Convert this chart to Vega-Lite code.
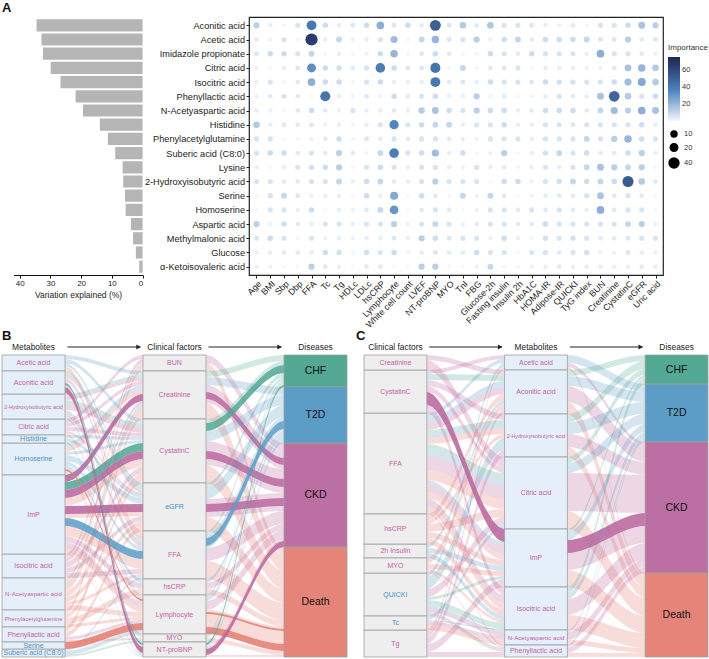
{
"$schema":"https://vega.github.io/schema/vega-lite/v6.json",
"padding":{"left":1,"top":2,"right":0,"bottom":0},
"spacing":-5,
"vconcat":[
{
 "hconcat":[
 {
  "width":230,"height":258,
  "title":{"text":"A","anchor":"start","frame":"group","fontSize":13,"fontWeight":"bold","offset":2},
  "view":{"stroke":null},
  "data":{"name":"bars"},
  "mark":{"type":"bar","color":"#b5b5b5"},
  "encoding":{
   "y":{"field":"m","type":"nominal","sort":null,"scale":{"paddingInner":0.14,"paddingOuter":0.155},"axis":null},
   "x":{"field":"v","type":"quantitative","scale":{"domain":[0,42],"range":[140.6,11.5],"nice":false},"axis":{"values":[0,10,20,30,40],"title":"Variation explained (%)","tickSize":3,"labelFontSize":8,"titleFontSize":8.5,"labelPadding":1,"titlePadding":3,"domainColor":"#111","tickColor":"#111","grid":false}}
  }
 },
 {
  "width":414,"height":258,
  "view":{"stroke":"#222","strokeWidth":1.2},
  "data":{"name":"imp"},
  "transform":[{"fold":["Age","BMI","Sbp","Dbp","FFA","Tc","Tg","HDLc","LDLc","hsCRP","Lymphocyte","White cell count","LVEF","NT-proBNP","MYO","TnI","FBG","Glucose-2h","Fasting insulin","Insulin 2h","HbA1C","HOMA-IR","Adipose-IR","QUICKI","TyG index","BUN","Creatinine","CystatinC","eGFR","Uric acid"],"as":["clin","imp"]}],
  "mark":{"type":"circle","opacity":1},
  "encoding":{
   "x":{"field":"clin","type":"nominal","sort":["Age","BMI","Sbp","Dbp","FFA","Tc","Tg","HDLc","LDLc","hsCRP","Lymphocyte","White cell count","LVEF","NT-proBNP","MYO","TnI","FBG","Glucose-2h","Fasting insulin","Insulin 2h","HbA1C","HOMA-IR","Adipose-IR","QUICKI","TyG index","BUN","Creatinine","CystatinC","eGFR","Uric acid"],"scale":{"type":"point","padding":0.545},"axis":{"title":null,"labelAngle":-45,"labelFontSize":8.8,"tickSize":3,"domain":false,"labelPadding":1}},
   "y":{"field":"m","type":"nominal","sort":null,"scale":{"type":"point","padding":0.585},"axis":{"title":null,"labelFontSize":9.2,"tickSize":3,"domain":false,"labelPadding":1.5}},
   "size":{"aggregate":"max","field":"imp","type":"quantitative","scale":{"domain":[0,75],"range":[14,170]},"legend":{"title":null,"orient":"none","legendX":666,"legendY":113,"values":[10,20,40],"symbolFillColor":"#000","symbolStrokeColor":"#000","symbolOpacity":1,"labelFontSize":7.5,"labelColor":"#333","rowPadding":0}},
   "color":{"field":"imp","type":"quantitative","scale":{"domain":[0,35,75],"range":["#f4f8fc","#4f86bf","#1b2752"]},"legend":{"title":"Importance","orient":"none","legendX":666,"legendY":27,"values":[20,40,60],"gradientLength":64,"gradientThickness":12,"labelFontSize":7.5,"titleFontSize":8,"titleFontWeight":"normal","titleColor":"#333","labelColor":"#333","titlePadding":5}}
  }
 }
 ],
 "spacing":17,
 "bounds":"flush"
},
{
 "hconcat":[
 {
  "width":345,"height":327,
  "view":{"stroke":null},
  "resolve":{"scale":{"x":"independent"}},
  "layer":[
   {
    "data":{"name":"pathsB"},
    "transform":[
     {"lookup":"m","from":{"data":{"name":"nodesB"},"key":"name","fields":["name","rank"]},"as":["mL","mRank"]},
     {"lookup":"c","from":{"data":{"name":"nodesB"},"key":"name","fields":["name","rank"]},"as":["cL","cRank"]},
     {"lookup":"d","from":{"data":{"name":"nodesB"},"key":"name","fields":["name","rank"]},"as":["dL","dRank"]},
     {"fold":["mL","m","cL","c"],"as":["key","node"]},
     {"lookup":"node","from":{"data":{"name":"nodesB"},"key":"name","fields":["rank"]},"as":["nRank"]},
     {"stack":"v","groupby":["key"],"sort":[{"field":"nRank","order":"ascending"},{"field":"cRank","order":"ascending"},{"field":"mRank","order":"ascending"},{"field":"dRank","order":"ascending"},{"field":"hl","order":"ascending"}],"as":["y0","y1"]}
    ],
    "mark":{"type":"area","interpolate":"monotone"},
    "encoding":{
     "x":{"field":"key","type":"nominal","sort":["mL","s1","s2","s3","m","s5","s6","s7","s8","cL","s10","s11","s12","c","s14","s15","s16","s17","dL","s19","s20","s21","d"],"scale":{"type":"point","padding":0,"domain":["mL","s1","s2","s3","m","s5","s6","s7","s8","cL","s10","s11","s12","c","s14","s15","s16","s17","dL","s19","s20","s21","d"]},"axis":null},
     "y":{"field":"y0","type":"quantitative","stack":null,"scale":{"domain":[-25,302],"reverse":true,"nice":false,"zero":false},"axis":null},
     "y2":{"field":"y1"},
     "detail":[{"field":"m","type":"nominal"},{"field":"c","type":"nominal"},{"field":"d","type":"nominal"},{"field":"hl","type":"nominal"}],
     "color":{"field":"d","type":"nominal","scale":{"domain":["CHF","T2D","CKD","Death"],"range":["#4fa792","#5a9cc6","#b8639c","#e4796c"]},"legend":null},
     "opacity":{"field":"hl","type":"quantitative","scale":{"domain":[0,1],"range":[0.26,0.85]},"legend":null}
    }
   },
   {
    "data":{"name":"pathsB"},
    "transform":[
     {"lookup":"m","from":{"data":{"name":"nodesB"},"key":"name","fields":["name","rank"]},"as":["mL","mRank"]},
     {"lookup":"c","from":{"data":{"name":"nodesB"},"key":"name","fields":["name","rank"]},"as":["cL","cRank"]},
     {"lookup":"d","from":{"data":{"name":"nodesB"},"key":"name","fields":["name","rank"]},"as":["dL","dRank"]},
     {"fold":["cL","c","dL","d"],"as":["key","node"]},
     {"lookup":"node","from":{"data":{"name":"nodesB"},"key":"name","fields":["rank"]},"as":["nRank"]},
     {"stack":"v","groupby":["key"],"sort":[{"field":"nRank","order":"ascending"},{"field":"dRank","order":"ascending"},{"field":"cRank","order":"ascending"},{"field":"mRank","order":"ascending"},{"field":"hl","order":"ascending"}],"as":["y0","y1"]}
    ],
    "mark":{"type":"area","interpolate":"monotone"},
    "encoding":{
     "x":{"field":"key","type":"nominal","sort":["mL","s1","s2","s3","m","s5","s6","s7","s8","cL","s10","s11","s12","c","s14","s15","s16","s17","dL","s19","s20","s21","d"],"scale":{"type":"point","padding":0,"domain":["mL","s1","s2","s3","m","s5","s6","s7","s8","cL","s10","s11","s12","c","s14","s15","s16","s17","dL","s19","s20","s21","d"]},"axis":null},
     "y":{"field":"y0","type":"quantitative","stack":null,"scale":{"domain":[-25,302],"reverse":true,"nice":false,"zero":false},"axis":null},
     "y2":{"field":"y1"},
     "detail":[{"field":"m","type":"nominal"},{"field":"c","type":"nominal"},{"field":"d","type":"nominal"},{"field":"hl","type":"nominal"}],
     "color":{"field":"d","type":"nominal","scale":{"domain":["CHF","T2D","CKD","Death"],"range":["#4fa792","#5a9cc6","#b8639c","#e4796c"]},"legend":null},
     "opacity":{"field":"hl","type":"quantitative","scale":{"domain":[0,1],"range":[0.26,0.85]},"legend":null}
    }
   },
   {
    "data":{"name":"pathsB"},
    "transform":[
     {"fold":["m","c","d"],"as":["stage","node"]},
     {"aggregate":[{"op":"sum","field":"v","as":"v"}],"groupby":["stage","node"]},
     {"lookup":"node","from":{"data":{"name":"nodesB"},"key":"name","fields":["rank","kind","dir"]}}
    ],
    "mark":{"type":"bar","stroke":"#a0a0a0","strokeWidth":0.8},
    "encoding":{
     "x":{"field":"stage","type":"nominal","sort":["m","g1","c","g2","d"],"scale":{"type":"band","domain":["m","g1","c","g2","d"],"paddingInner":0.1064,"paddingOuter":0},"axis":null},
     "y":{"field":"v","type":"quantitative","stack":"zero","scale":{"domain":[-25,302],"reverse":true,"nice":false,"zero":false},"axis":null},
     "order":{"field":"rank","type":"quantitative"},
     "detail":{"field":"node","type":"nominal"},
     "fill":{"field":"kind","type":"nominal","scale":{"domain":["met","cli","CHF","T2D","CKD","Death"],"range":["#e5eff9","#eeeeee","#53a994","#5b9dc6","#bc6fa3","#e5857a"]},"legend":null}
    }
   },
   {
    "data":{"name":"pathsB"},
    "transform":[
     {"fold":["m","c","d"],"as":["stage","node"]},
     {"aggregate":[{"op":"sum","field":"v","as":"v"}],"groupby":["stage","node"]},
     {"lookup":"node","from":{"data":{"name":"nodesB"},"key":"name","fields":["rank","kind","dir"]}}
    ],
    "mark":{"type":"text","baseline":"middle","align":"center"},
    "encoding":{
     "x":{"field":"stage","type":"nominal","sort":["m","g1","c","g2","d"],"scale":{"type":"band","domain":["m","g1","c","g2","d"],"paddingInner":0.1064,"paddingOuter":0},"axis":null},
     "y":{"field":"v","type":"quantitative","stack":"zero","bandPosition":0.5,"scale":{"domain":[-25,302],"reverse":true,"nice":false,"zero":false},"axis":null},
     "order":{"field":"rank","type":"quantitative"},
     "detail":{"field":"node","type":"nominal"},
     "text":{"field":"node"},
     "color":{"condition":[{"test":"datum.stage==='d'","value":"#111111"},{"test":"datum.dir==='n'","value":"#4990c7"}],"value":"#c45fa5"},
     "size":{"condition":[{"test":"datum.stage==='d'","value":10.5},{"test":"length(datum.node)>=24","value":5.4},{"test":"length(datum.node)>=21","value":5.8},{"test":"length(datum.node)>=20","value":6.2}],"value":7}
    }
   },
   {
    "data":{"values":[{"stage":"m","label":"Metabolites"},{"stage":"c","label":"Clinical factors"},{"stage":"d","label":"Diseases"}]},
    "mark":{"type":"text","fontSize":8.4,"color":"#222","baseline":"middle"},
    "encoding":{
     "x":{"field":"stage","type":"nominal","sort":["m","g1","c","g2","d"],"scale":{"type":"band","domain":["m","g1","c","g2","d"],"paddingInner":0.1064,"paddingOuter":0},"axis":null},
     "y":{"datum":-8,"type":"quantitative","scale":{"domain":[-25,302],"reverse":true,"nice":false,"zero":false},"axis":null},
     "text":{"field":"label"}
    }
   },
   {
    "data":{"values":[{"stage":"m","label":"B"}]},
    "mark":{"type":"text","fontSize":13,"fontWeight":"bold","color":"#111","align":"left","baseline":"middle"},
    "encoding":{
     "x":{"field":"stage","type":"nominal","bandPosition":0,"sort":["m","g1","c","g2","d"],"scale":{"type":"band","domain":["m","g1","c","g2","d"],"paddingInner":0.1064,"paddingOuter":0},"axis":null},
     "y":{"datum":-19.5,"type":"quantitative","scale":{"domain":[-25,302],"reverse":true,"nice":false,"zero":false},"axis":null},
     "text":{"field":"label"}
    }
   },
   {
    "data":{"values":[{"stage":"g1"},{"stage":"g2"}]},
    "mark":{"type":"bar","color":"#222","width":{"band":1.16}},
    "encoding":{
     "x":{"field":"stage","type":"nominal","sort":["m","g1","c","g2","d"],"scale":{"type":"band","domain":["m","g1","c","g2","d"],"paddingInner":0.1064,"paddingOuter":0},"axis":null},
     "y":{"datum":-8.4,"type":"quantitative","scale":{"domain":[-25,302],"reverse":true,"nice":false,"zero":false},"axis":null},
     "y2":{"datum":-7.6}
    }
   },
   {
    "data":{"values":[{"stage":"g1"},{"stage":"g2"}]},
    "mark":{"type":"point","shape":"triangle-right","filled":true,"size":26,"color":"#222","opacity":1,"xOffset":3},
    "encoding":{
     "x":{"field":"stage","type":"nominal","bandPosition":1,"sort":["m","g1","c","g2","d"],"scale":{"type":"band","domain":["m","g1","c","g2","d"],"paddingInner":0.1064,"paddingOuter":0},"axis":null},
     "y":{"datum":-8,"type":"quantitative","scale":{"domain":[-25,302],"reverse":true,"nice":false,"zero":false},"axis":null}
    }
   }
  ]
 },
 {
  "width":344,"height":327,
  "view":{"stroke":null},
  "resolve":{"scale":{"x":"independent"}},
  "layer":[
   {
    "data":{"name":"pathsC"},
    "transform":[
     {"lookup":"m","from":{"data":{"name":"nodesC"},"key":"name","fields":["name","rank"]},"as":["mL","mRank"]},
     {"lookup":"c","from":{"data":{"name":"nodesC"},"key":"name","fields":["name","rank"]},"as":["cL","cRank"]},
     {"lookup":"d","from":{"data":{"name":"nodesC"},"key":"name","fields":["name","rank"]},"as":["dL","dRank"]},
     {"fold":["cL","c","mL","m"],"as":["key","node"]},
     {"lookup":"node","from":{"data":{"name":"nodesC"},"key":"name","fields":["rank"]},"as":["nRank"]},
     {"stack":"v","groupby":["key"],"sort":[{"field":"nRank","order":"ascending"},{"field":"mRank","order":"ascending"},{"field":"cRank","order":"ascending"},{"field":"dRank","order":"ascending"},{"field":"hl","order":"ascending"}],"as":["y0","y1"]}
    ],
    "mark":{"type":"area","interpolate":"monotone"},
    "encoding":{
     "x":{"field":"key","type":"nominal","sort":["cL","s1","s2","s3","c","s5","s6","s7","s8","mL","s10","s11","s12","m","s14","s15","s16","s17","dL","s19","s20","s21","d"],"scale":{"type":"point","padding":0,"domain":["cL","s1","s2","s3","c","s5","s6","s7","s8","mL","s10","s11","s12","m","s14","s15","s16","s17","dL","s19","s20","s21","d"]},"axis":null},
     "y":{"field":"y0","type":"quantitative","stack":null,"scale":{"domain":[-25,302],"reverse":true,"nice":false,"zero":false},"axis":null},
     "y2":{"field":"y1"},
     "detail":[{"field":"m","type":"nominal"},{"field":"c","type":"nominal"},{"field":"d","type":"nominal"},{"field":"hl","type":"nominal"}],
     "color":{"field":"d","type":"nominal","scale":{"domain":["CHF","T2D","CKD","Death"],"range":["#4fa792","#5a9cc6","#b8639c","#e4796c"]},"legend":null},
     "opacity":{"field":"hl","type":"quantitative","scale":{"domain":[0,1],"range":[0.26,0.85]},"legend":null}
    }
   },
   {
    "data":{"name":"pathsC"},
    "transform":[
     {"lookup":"m","from":{"data":{"name":"nodesC"},"key":"name","fields":["name","rank"]},"as":["mL","mRank"]},
     {"lookup":"c","from":{"data":{"name":"nodesC"},"key":"name","fields":["name","rank"]},"as":["cL","cRank"]},
     {"lookup":"d","from":{"data":{"name":"nodesC"},"key":"name","fields":["name","rank"]},"as":["dL","dRank"]},
     {"fold":["mL","m","dL","d"],"as":["key","node"]},
     {"lookup":"node","from":{"data":{"name":"nodesC"},"key":"name","fields":["rank"]},"as":["nRank"]},
     {"stack":"v","groupby":["key"],"sort":[{"field":"nRank","order":"ascending"},{"field":"dRank","order":"ascending"},{"field":"mRank","order":"ascending"},{"field":"cRank","order":"ascending"},{"field":"hl","order":"ascending"}],"as":["y0","y1"]}
    ],
    "mark":{"type":"area","interpolate":"monotone"},
    "encoding":{
     "x":{"field":"key","type":"nominal","sort":["cL","s1","s2","s3","c","s5","s6","s7","s8","mL","s10","s11","s12","m","s14","s15","s16","s17","dL","s19","s20","s21","d"],"scale":{"type":"point","padding":0,"domain":["cL","s1","s2","s3","c","s5","s6","s7","s8","mL","s10","s11","s12","m","s14","s15","s16","s17","dL","s19","s20","s21","d"]},"axis":null},
     "y":{"field":"y0","type":"quantitative","stack":null,"scale":{"domain":[-25,302],"reverse":true,"nice":false,"zero":false},"axis":null},
     "y2":{"field":"y1"},
     "detail":[{"field":"m","type":"nominal"},{"field":"c","type":"nominal"},{"field":"d","type":"nominal"},{"field":"hl","type":"nominal"}],
     "color":{"field":"d","type":"nominal","scale":{"domain":["CHF","T2D","CKD","Death"],"range":["#4fa792","#5a9cc6","#b8639c","#e4796c"]},"legend":null},
     "opacity":{"field":"hl","type":"quantitative","scale":{"domain":[0,1],"range":[0.26,0.85]},"legend":null}
    }
   },
   {
    "data":{"name":"pathsC"},
    "transform":[
     {"fold":["c","m","d"],"as":["stage","node"]},
     {"aggregate":[{"op":"sum","field":"v","as":"v"}],"groupby":["stage","node"]},
     {"lookup":"node","from":{"data":{"name":"nodesC"},"key":"name","fields":["rank","kind","dir"]}}
    ],
    "mark":{"type":"bar","stroke":"#a0a0a0","strokeWidth":0.8},
    "encoding":{
     "x":{"field":"stage","type":"nominal","sort":["c","g1","m","g2","d"],"scale":{"type":"band","domain":["c","g1","m","g2","d"],"paddingInner":0.1064,"paddingOuter":0},"axis":null},
     "y":{"field":"v","type":"quantitative","stack":"zero","scale":{"domain":[-25,302],"reverse":true,"nice":false,"zero":false},"axis":null},
     "order":{"field":"rank","type":"quantitative"},
     "detail":{"field":"node","type":"nominal"},
     "fill":{"field":"kind","type":"nominal","scale":{"domain":["met","cli","CHF","T2D","CKD","Death"],"range":["#e5eff9","#eeeeee","#53a994","#5b9dc6","#bc6fa3","#e5857a"]},"legend":null}
    }
   },
   {
    "data":{"name":"pathsC"},
    "transform":[
     {"fold":["c","m","d"],"as":["stage","node"]},
     {"aggregate":[{"op":"sum","field":"v","as":"v"}],"groupby":["stage","node"]},
     {"lookup":"node","from":{"data":{"name":"nodesC"},"key":"name","fields":["rank","kind","dir"]}}
    ],
    "mark":{"type":"text","baseline":"middle","align":"center"},
    "encoding":{
     "x":{"field":"stage","type":"nominal","sort":["c","g1","m","g2","d"],"scale":{"type":"band","domain":["c","g1","m","g2","d"],"paddingInner":0.1064,"paddingOuter":0},"axis":null},
     "y":{"field":"v","type":"quantitative","stack":"zero","bandPosition":0.5,"scale":{"domain":[-25,302],"reverse":true,"nice":false,"zero":false},"axis":null},
     "order":{"field":"rank","type":"quantitative"},
     "detail":{"field":"node","type":"nominal"},
     "text":{"field":"node"},
     "color":{"condition":[{"test":"datum.stage==='d'","value":"#111111"},{"test":"datum.dir==='n'","value":"#4990c7"}],"value":"#c45fa5"},
     "size":{"condition":[{"test":"datum.stage==='d'","value":10.5},{"test":"length(datum.node)>=24","value":5.4},{"test":"length(datum.node)>=21","value":5.8},{"test":"length(datum.node)>=20","value":6.2}],"value":7}
    }
   },
   {
    "data":{"values":[{"stage":"c","label":"Clinical factors"},{"stage":"m","label":"Metabolites"},{"stage":"d","label":"Diseases"}]},
    "mark":{"type":"text","fontSize":8.4,"color":"#222","baseline":"middle"},
    "encoding":{
     "x":{"field":"stage","type":"nominal","sort":["c","g1","m","g2","d"],"scale":{"type":"band","domain":["c","g1","m","g2","d"],"paddingInner":0.1064,"paddingOuter":0},"axis":null},
     "y":{"datum":-8,"type":"quantitative","scale":{"domain":[-25,302],"reverse":true,"nice":false,"zero":false},"axis":null},
     "text":{"field":"label"}
    }
   },
   {
    "data":{"values":[{"stage":"c","label":"C"}]},
    "mark":{"type":"text","fontSize":13,"fontWeight":"bold","color":"#111","align":"left","baseline":"middle","dx":-8},
    "encoding":{
     "x":{"field":"stage","type":"nominal","bandPosition":0,"sort":["c","g1","m","g2","d"],"scale":{"type":"band","domain":["c","g1","m","g2","d"],"paddingInner":0.1064,"paddingOuter":0},"axis":null},
     "y":{"datum":-19.5,"type":"quantitative","scale":{"domain":[-25,302],"reverse":true,"nice":false,"zero":false},"axis":null},
     "text":{"field":"label"}
    }
   },
   {
    "data":{"values":[{"stage":"g1"},{"stage":"g2"}]},
    "mark":{"type":"bar","color":"#222","width":{"band":1.16}},
    "encoding":{
     "x":{"field":"stage","type":"nominal","sort":["c","g1","m","g2","d"],"scale":{"type":"band","domain":["c","g1","m","g2","d"],"paddingInner":0.1064,"paddingOuter":0},"axis":null},
     "y":{"datum":-8.4,"type":"quantitative","scale":{"domain":[-25,302],"reverse":true,"nice":false,"zero":false},"axis":null},
     "y2":{"datum":-7.6}
    }
   },
   {
    "data":{"values":[{"stage":"g1"},{"stage":"g2"}]},
    "mark":{"type":"point","shape":"triangle-right","filled":true,"size":26,"color":"#222","opacity":1,"xOffset":3},
    "encoding":{
     "x":{"field":"stage","type":"nominal","bandPosition":1,"sort":["c","g1","m","g2","d"],"scale":{"type":"band","domain":["c","g1","m","g2","d"],"paddingInner":0.1064,"paddingOuter":0},"axis":null},
     "y":{"datum":-8,"type":"quantitative","scale":{"domain":[-25,302],"reverse":true,"nice":false,"zero":false},"axis":null}
    }
   }
  ]
 }
 ],
 "spacing":17,
 "bounds":"flush"
}
],
"datasets":{
 "bars":[
  {"m":"Aconitic acid","v":34.5},{"m":"Acetic acid","v":32.9},{"m":"Imidazole propionate","v":32.4},{"m":"Citric acid","v":29.9},{"m":"Isocitric acid","v":26.7},{"m":"Phenyllactic acid","v":21.8},{"m":"N-Acetyaspartic acid","v":19.4},{"m":"Histidine","v":13.9},{"m":"Phenylacetylglutamine","v":11.3},{"m":"Suberic acid (C8:0)","v":8.9},{"m":"Lysine","v":6.5},{"m":"2-Hydroxyisobutyric acid","v":6.3},{"m":"Serine","v":5.7},{"m":"Homoserine","v":5.5},{"m":"Aspartic acid","v":3.8},{"m":"Methylmalonic acid","v":3.1},{"m":"Glucose","v":2.2},{"m":"α-Ketoisovaleric acid","v":1.1}
 ],
 "imp":[
  {"m":"Aconitic acid","Age":12,"BMI":3,"Sbp":1,"Dbp":6,"FFA":40,"Tc":8,"Tg":3,"HDLc":5,"LDLc":8,"hsCRP":22,"Lymphocyte":5,"White cell count":8,"LVEF":4,"NT-proBNP":50,"MYO":5,"TnI":14,"FBG":4,"Glucose-2h":15,"Fasting insulin":6,"Insulin 2h":6,"HbA1C":5,"HOMA-IR":3,"Adipose-IR":2,"QUICKI":4,"TyG index":1,"BUN":6,"Creatinine":6,"CystatinC":8,"eGFR":16,"Uric acid":12},
  {"m":"Acetic acid","Age":4,"BMI":2,"Sbp":6,"Dbp":1,"FFA":65,"Tc":3,"Tg":10,"HDLc":2,"LDLc":3,"hsCRP":6,"Lymphocyte":18,"White cell count":1,"LVEF":10,"NT-proBNP":20,"MYO":5,"TnI":6,"FBG":12,"Glucose-2h":2,"Fasting insulin":8,"Insulin 2h":10,"HbA1C":4,"HOMA-IR":8,"Adipose-IR":8,"QUICKI":8,"TyG index":10,"BUN":5,"Creatinine":5,"CystatinC":12,"eGFR":4,"Uric acid":5},
  {"m":"Imidazole propionate","Age":5,"BMI":8,"Sbp":8,"Dbp":6,"FFA":10,"Tc":1,"Tg":3,"HDLc":1,"LDLc":2,"hsCRP":8,"Lymphocyte":20,"White cell count":1,"LVEF":5,"NT-proBNP":8,"MYO":4,"TnI":1,"FBG":1,"Glucose-2h":8,"Fasting insulin":6,"Insulin 2h":4,"HbA1C":8,"HOMA-IR":6,"Adipose-IR":6,"QUICKI":6,"TyG index":3,"BUN":22,"Creatinine":6,"CystatinC":6,"eGFR":4,"Uric acid":2},
  {"m":"Citric acid","Age":2,"BMI":1,"Sbp":3,"Dbp":5,"FFA":32,"Tc":8,"Tg":7,"HDLc":4,"LDLc":6,"hsCRP":38,"Lymphocyte":8,"White cell count":5,"LVEF":5,"NT-proBNP":42,"MYO":1,"TnI":10,"FBG":1,"Glucose-2h":4,"Fasting insulin":5,"Insulin 2h":6,"HbA1C":1,"HOMA-IR":3,"Adipose-IR":3,"QUICKI":3,"TyG index":2,"BUN":2,"Creatinine":4,"CystatinC":16,"eGFR":20,"Uric acid":14},
  {"m":"Isocitric acid","Age":2,"BMI":6,"Sbp":1,"Dbp":4,"FFA":22,"Tc":8,"Tg":8,"HDLc":1,"LDLc":6,"hsCRP":8,"Lymphocyte":3,"White cell count":3,"LVEF":3,"NT-proBNP":40,"MYO":4,"TnI":5,"FBG":3,"Glucose-2h":8,"Fasting insulin":6,"Insulin 2h":6,"HbA1C":5,"HOMA-IR":8,"Adipose-IR":7,"QUICKI":7,"TyG index":6,"BUN":6,"Creatinine":8,"CystatinC":18,"eGFR":24,"Uric acid":14},
  {"m":"Phenyllactic acid","Age":2,"BMI":4,"Sbp":6,"Dbp":4,"FFA":0,"Tc":42,"Tg":3,"HDLc":1,"LDLc":5,"hsCRP":2,"Lymphocyte":8,"White cell count":4,"LVEF":6,"NT-proBNP":8,"MYO":3,"TnI":3,"FBG":12,"Glucose-2h":1,"Fasting insulin":4,"Insulin 2h":0,"HbA1C":1,"HOMA-IR":3,"Adipose-IR":6,"QUICKI":4,"TyG index":3,"BUN":16,"Creatinine":48,"CystatinC":14,"eGFR":6,"Uric acid":8},
  {"m":"N-Acetyaspartic acid","Age":3,"BMI":3,"Sbp":1,"Dbp":4,"FFA":8,"Tc":4,"Tg":2,"HDLc":6,"LDLc":3,"hsCRP":3,"Lymphocyte":4,"White cell count":3,"LVEF":13,"NT-proBNP":16,"MYO":8,"TnI":6,"FBG":12,"Glucose-2h":8,"Fasting insulin":8,"Insulin 2h":3,"HbA1C":4,"HOMA-IR":8,"Adipose-IR":8,"QUICKI":8,"TyG index":4,"BUN":10,"Creatinine":18,"CystatinC":12,"eGFR":22,"Uric acid":16},
  {"m":"Histidine","Age":14,"BMI":3,"Sbp":4,"Dbp":4,"FFA":5,"Tc":2,"Tg":3,"HDLc":1,"LDLc":3,"hsCRP":6,"Lymphocyte":35,"White cell count":6,"LVEF":8,"NT-proBNP":10,"MYO":10,"TnI":3,"FBG":6,"Glucose-2h":6,"Fasting insulin":8,"Insulin 2h":3,"HbA1C":3,"HOMA-IR":6,"Adipose-IR":6,"QUICKI":5,"TyG index":6,"BUN":6,"Creatinine":6,"CystatinC":6,"eGFR":8,"Uric acid":3},
  {"m":"Phenylacetylglutamine","Age":6,"BMI":6,"Sbp":0,"Dbp":1,"FFA":2,"Tc":4,"Tg":8,"HDLc":1,"LDLc":5,"hsCRP":4,"Lymphocyte":6,"White cell count":4,"LVEF":6,"NT-proBNP":6,"MYO":4,"TnI":3,"FBG":2,"Glucose-2h":6,"Fasting insulin":6,"Insulin 2h":6,"HbA1C":3,"HOMA-IR":6,"Adipose-IR":6,"QUICKI":6,"TyG index":10,"BUN":6,"Creatinine":12,"CystatinC":20,"eGFR":8,"Uric acid":6},
  {"m":"Suberic acid (C8:0)","Age":6,"BMI":8,"Sbp":8,"Dbp":4,"FFA":6,"Tc":4,"Tg":12,"HDLc":4,"LDLc":1,"hsCRP":10,"Lymphocyte":38,"White cell count":6,"LVEF":8,"NT-proBNP":18,"MYO":3,"TnI":8,"FBG":0,"Glucose-2h":2,"Fasting insulin":12,"Insulin 2h":0,"HbA1C":3,"HOMA-IR":7,"Adipose-IR":10,"QUICKI":6,"TyG index":8,"BUN":4,"Creatinine":4,"CystatinC":8,"eGFR":12,"Uric acid":3},
  {"m":"Lysine","Age":3,"BMI":0,"Sbp":3,"Dbp":6,"FFA":7,"Tc":8,"Tg":12,"HDLc":0,"LDLc":6,"hsCRP":8,"Lymphocyte":6,"White cell count":3,"LVEF":6,"NT-proBNP":6,"MYO":3,"TnI":2,"FBG":6,"Glucose-2h":3,"Fasting insulin":4,"Insulin 2h":1,"HbA1C":3,"HOMA-IR":6,"Adipose-IR":3,"QUICKI":6,"TyG index":10,"BUN":16,"Creatinine":12,"CystatinC":10,"eGFR":12,"Uric acid":1},
  {"m":"2-Hydroxyisobutyric acid","Age":6,"BMI":6,"Sbp":4,"Dbp":4,"FFA":6,"Tc":6,"Tg":10,"HDLc":3,"LDLc":8,"hsCRP":10,"Lymphocyte":4,"White cell count":3,"LVEF":6,"NT-proBNP":12,"MYO":6,"TnI":6,"FBG":6,"Glucose-2h":0,"Fasting insulin":8,"Insulin 2h":8,"HbA1C":2,"HOMA-IR":6,"Adipose-IR":7,"QUICKI":10,"TyG index":8,"BUN":10,"Creatinine":8,"CystatinC":52,"eGFR":14,"Uric acid":4},
  {"m":"Serine","Age":0,"BMI":6,"Sbp":10,"Dbp":5,"FFA":2,"Tc":3,"Tg":3,"HDLc":0,"LDLc":8,"hsCRP":3,"Lymphocyte":24,"White cell count":0,"LVEF":8,"NT-proBNP":4,"MYO":0,"TnI":10,"FBG":2,"Glucose-2h":10,"Fasting insulin":4,"Insulin 2h":0,"HbA1C":2,"HOMA-IR":4,"Adipose-IR":4,"QUICKI":4,"TyG index":6,"BUN":16,"Creatinine":4,"CystatinC":6,"eGFR":4,"Uric acid":0},
  {"m":"Homoserine","Age":0,"BMI":6,"Sbp":6,"Dbp":3,"FFA":8,"Tc":0,"Tg":3,"HDLc":2,"LDLc":4,"hsCRP":10,"Lymphocyte":30,"White cell count":0,"LVEF":4,"NT-proBNP":6,"MYO":4,"TnI":0,"FBG":2,"Glucose-2h":6,"Fasting insulin":6,"Insulin 2h":4,"HbA1C":6,"HOMA-IR":4,"Adipose-IR":6,"QUICKI":4,"TyG index":3,"BUN":22,"Creatinine":4,"CystatinC":6,"eGFR":6,"Uric acid":0},
  {"m":"Aspartic acid","Age":12,"BMI":2,"Sbp":8,"Dbp":4,"FFA":3,"Tc":6,"Tg":6,"HDLc":3,"LDLc":6,"hsCRP":6,"Lymphocyte":12,"White cell count":2,"LVEF":6,"NT-proBNP":10,"MYO":6,"TnI":2,"FBG":4,"Glucose-2h":6,"Fasting insulin":6,"Insulin 2h":4,"HbA1C":4,"HOMA-IR":8,"Adipose-IR":6,"QUICKI":6,"TyG index":6,"BUN":6,"Creatinine":6,"CystatinC":10,"eGFR":12,"Uric acid":2},
  {"m":"Methylmalonic acid","Age":6,"BMI":8,"Sbp":6,"Dbp":1,"FFA":6,"Tc":2,"Tg":3,"HDLc":2,"LDLc":3,"hsCRP":3,"Lymphocyte":5,"White cell count":3,"LVEF":12,"NT-proBNP":8,"MYO":5,"TnI":6,"FBG":6,"Glucose-2h":2,"Fasting insulin":8,"Insulin 2h":3,"HbA1C":1,"HOMA-IR":7,"Adipose-IR":6,"QUICKI":7,"TyG index":6,"BUN":4,"Creatinine":4,"CystatinC":5,"eGFR":6,"Uric acid":6},
  {"m":"Glucose","Age":2,"BMI":3,"Sbp":4,"Dbp":4,"FFA":3,"Tc":8,"Tg":7,"HDLc":1,"LDLc":7,"hsCRP":6,"Lymphocyte":8,"White cell count":1,"LVEF":3,"NT-proBNP":5,"MYO":4,"TnI":4,"FBG":8,"Glucose-2h":6,"Fasting insulin":6,"Insulin 2h":1,"HbA1C":6,"HOMA-IR":6,"Adipose-IR":4,"QUICKI":6,"TyG index":7,"BUN":2,"Creatinine":2,"CystatinC":5,"eGFR":3,"Uric acid":2},
  {"m":"α-Ketoisovaleric acid","Age":2,"BMI":2,"Sbp":0,"Dbp":0,"FFA":12,"Tc":4,"Tg":3,"HDLc":0,"LDLc":4,"hsCRP":4,"Lymphocyte":0,"White cell count":0,"LVEF":12,"NT-proBNP":12,"MYO":0,"TnI":0,"FBG":2,"Glucose-2h":10,"Fasting insulin":1,"Insulin 2h":1,"HbA1C":2,"HOMA-IR":3,"Adipose-IR":4,"QUICKI":3,"TyG index":3,"BUN":3,"Creatinine":3,"CystatinC":3,"eGFR":4,"Uric acid":3}
 ],
 "nodesB":[
  {"name":"Acetic acid","rank":1,"kind":"met","dir":"p"},{"name":"Aconitic acid","rank":2,"kind":"met","dir":"p"},{"name":"2-Hydroxyisobutyric acid","rank":3,"kind":"met","dir":"p"},{"name":"Citric acid","rank":4,"kind":"met","dir":"p"},{"name":"Histidine","rank":5,"kind":"met","dir":"n"},{"name":"Homoserine","rank":6,"kind":"met","dir":"n"},{"name":"ImP","rank":7,"kind":"met","dir":"p"},{"name":"Isocitric acid","rank":8,"kind":"met","dir":"p"},{"name":"N-Acetyaspartic acid","rank":9,"kind":"met","dir":"p"},{"name":"Phenylacetylglutamine","rank":10,"kind":"met","dir":"p"},{"name":"Phenyllactic acid","rank":11,"kind":"met","dir":"p"},{"name":"Serine","rank":12,"kind":"met","dir":"n"},{"name":"Suberic acid (C8:0)","rank":13,"kind":"met","dir":"n"},
  {"name":"BUN","rank":21,"kind":"cli","dir":"p"},{"name":"Creatinine","rank":22,"kind":"cli","dir":"p"},{"name":"CystatinC","rank":23,"kind":"cli","dir":"p"},{"name":"eGFR","rank":24,"kind":"cli","dir":"n"},{"name":"FFA","rank":25,"kind":"cli","dir":"p"},{"name":"hsCRP","rank":26,"kind":"cli","dir":"p"},{"name":"Lymphocyte","rank":27,"kind":"cli","dir":"p"},{"name":"MYO","rank":28,"kind":"cli","dir":"p"},{"name":"NT-proBNP","rank":29,"kind":"cli","dir":"p"},
  {"name":"CHF","rank":31,"kind":"CHF","dir":"p"},{"name":"T2D","rank":32,"kind":"T2D","dir":"p"},{"name":"CKD","rank":33,"kind":"CKD","dir":"p"},{"name":"Death","rank":34,"kind":"Death","dir":"p"}
 ],
 "nodesC":[
  {"name":"Creatinine","rank":1,"kind":"cli","dir":"p"},{"name":"CystatinC","rank":2,"kind":"cli","dir":"p"},{"name":"FFA","rank":3,"kind":"cli","dir":"p"},{"name":"hsCRP","rank":4,"kind":"cli","dir":"p"},{"name":"2h Insulin","rank":5,"kind":"cli","dir":"p"},{"name":"MYO","rank":6,"kind":"cli","dir":"p"},{"name":"QUICKI","rank":7,"kind":"cli","dir":"n"},{"name":"Tc","rank":8,"kind":"cli","dir":"n"},{"name":"Tg","rank":9,"kind":"cli","dir":"p"},
  {"name":"Acetic acid","rank":11,"kind":"met","dir":"p"},{"name":"Aconitic acid","rank":12,"kind":"met","dir":"p"},{"name":"2-Hydroxyisobutyric acid","rank":13,"kind":"met","dir":"p"},{"name":"Citric acid","rank":14,"kind":"met","dir":"p"},{"name":"ImP","rank":15,"kind":"met","dir":"p"},{"name":"Isocitric acid","rank":16,"kind":"met","dir":"p"},{"name":"N-Acetyaspartic acid","rank":17,"kind":"met","dir":"p"},{"name":"Phenyllactic acid","rank":18,"kind":"met","dir":"p"},
  {"name":"CHF","rank":31,"kind":"CHF","dir":"p"},{"name":"T2D","rank":32,"kind":"T2D","dir":"p"},{"name":"CKD","rank":33,"kind":"CKD","dir":"p"},{"name":"Death","rank":34,"kind":"Death","dir":"p"}
 ],
 "pathsB":[
  {"m":"Citric acid","c":"BUN","d":"CKD","v":4,"hl":0},
  {"m":"Isocitric acid","c":"BUN","d":"CKD","v":4,"hl":0},
  {"m":"N-Acetyaspartic acid","c":"BUN","d":"Death","v":4,"hl":0},
  {"m":"Phenylacetylglutamine","c":"BUN","d":"Death","v":4,"hl":0},
  {"m":"2-Hydroxyisobutyric acid","c":"Creatinine","d":"CHF","v":3,"hl":0},
  {"m":"N-Acetyaspartic acid","c":"Creatinine","d":"CHF","v":3,"hl":0},
  {"m":"Homoserine","c":"Creatinine","d":"T2D","v":4,"hl":0},
  {"m":"Acetic acid","c":"Creatinine","d":"T2D","v":4,"hl":0},
  {"m":"ImP","c":"Creatinine","d":"CKD","v":7,"hl":1},
  {"m":"Citric acid","c":"Creatinine","d":"CKD","v":4,"hl":0},
  {"m":"Isocitric acid","c":"Creatinine","d":"CKD","v":4,"hl":0},
  {"m":"2-Hydroxyisobutyric acid","c":"Creatinine","d":"CKD","v":3,"hl":0},
  {"m":"N-Acetyaspartic acid","c":"Creatinine","d":"Death","v":6,"hl":0},
  {"m":"Phenyllactic acid","c":"Creatinine","d":"Death","v":5,"hl":0},
  {"m":"Homoserine","c":"Creatinine","d":"Death","v":5,"hl":0},
  {"m":"ImP","c":"CystatinC","d":"CHF","v":8,"hl":1},
  {"m":"2-Hydroxyisobutyric acid","c":"CystatinC","d":"CHF","v":4,"hl":0},
  {"m":"Acetic acid","c":"CystatinC","d":"T2D","v":4,"hl":0},
  {"m":"Histidine","c":"CystatinC","d":"T2D","v":3,"hl":0},
  {"m":"Homoserine","c":"CystatinC","d":"T2D","v":3,"hl":0},
  {"m":"ImP","c":"CystatinC","d":"CKD","v":8,"hl":1},
  {"m":"Citric acid","c":"CystatinC","d":"CKD","v":4,"hl":0},
  {"m":"Isocitric acid","c":"CystatinC","d":"CKD","v":6,"hl":0},
  {"m":"2-Hydroxyisobutyric acid","c":"CystatinC","d":"CKD","v":6,"hl":0},
  {"m":"N-Acetyaspartic acid","c":"CystatinC","d":"Death","v":6,"hl":0},
  {"m":"Phenylacetylglutamine","c":"CystatinC","d":"Death","v":4,"hl":0},
  {"m":"ImP","c":"CystatinC","d":"Death","v":8,"hl":0},
  {"m":"Aconitic acid","c":"eGFR","d":"CHF","v":4,"hl":0},
  {"m":"Homoserine","c":"eGFR","d":"T2D","v":6,"hl":0},
  {"m":"Histidine","c":"eGFR","d":"T2D","v":3,"hl":0},
  {"m":"Acetic acid","c":"eGFR","d":"T2D","v":3,"hl":0},
  {"m":"ImP","c":"eGFR","d":"CKD","v":8,"hl":1},
  {"m":"Isocitric acid","c":"eGFR","d":"CKD","v":5,"hl":0},
  {"m":"Citric acid","c":"eGFR","d":"CKD","v":2,"hl":0},
  {"m":"Aconitic acid","c":"eGFR","d":"CKD","v":3,"hl":0},
  {"m":"Phenyllactic acid","c":"eGFR","d":"Death","v":5,"hl":0},
  {"m":"N-Acetyaspartic acid","c":"eGFR","d":"Death","v":5,"hl":0},
  {"m":"ImP","c":"eGFR","d":"Death","v":4,"hl":0},
  {"m":"2-Hydroxyisobutyric acid","c":"FFA","d":"CHF","v":3,"hl":0},
  {"m":"ImP","c":"FFA","d":"T2D","v":8,"hl":1},
  {"m":"Homoserine","c":"FFA","d":"T2D","v":4,"hl":0},
  {"m":"Suberic acid (C8:0)","c":"FFA","d":"T2D","v":2,"hl":0},
  {"m":"Aconitic acid","c":"FFA","d":"CKD","v":4,"hl":0},
  {"m":"Isocitric acid","c":"FFA","d":"CKD","v":5,"hl":0},
  {"m":"2-Hydroxyisobutyric acid","c":"FFA","d":"CKD","v":4,"hl":0},
  {"m":"ImP","c":"FFA","d":"Death","v":10,"hl":0},
  {"m":"Acetic acid","c":"FFA","d":"Death","v":5,"hl":0},
  {"m":"N-Acetyaspartic acid","c":"FFA","d":"Death","v":3,"hl":0},
  {"m":"Homoserine","c":"hsCRP","d":"T2D","v":4,"hl":0},
  {"m":"ImP","c":"hsCRP","d":"CKD","v":6,"hl":0},
  {"m":"Phenylacetylglutamine","c":"hsCRP","d":"Death","v":6,"hl":0},
  {"m":"2-Hydroxyisobutyric acid","c":"Lymphocyte","d":"CHF","v":2,"hl":0},
  {"m":"Suberic acid (C8:0)","c":"Lymphocyte","d":"T2D","v":4,"hl":0},
  {"m":"ImP","c":"Lymphocyte","d":"CKD","v":6,"hl":0},
  {"m":"Phenyllactic acid","c":"Lymphocyte","d":"CKD","v":3,"hl":0},
  {"m":"Serine","c":"Lymphocyte","d":"Death","v":7,"hl":1},
  {"m":"Homoserine","c":"Lymphocyte","d":"Death","v":2,"hl":1},
  {"m":"ImP","c":"Lymphocyte","d":"Death","v":5,"hl":0},
  {"m":"Phenylacetylglutamine","c":"Lymphocyte","d":"Death","v":3,"hl":0},
  {"m":"N-Acetyaspartic acid","c":"Lymphocyte","d":"Death","v":5,"hl":0},
  {"m":"Citric acid","c":"Lymphocyte","d":"Death","v":2,"hl":0},
  {"m":"Suberic acid (C8:0)","c":"MYO","d":"CHF","v":2,"hl":0},
  {"m":"Histidine","c":"MYO","d":"T2D","v":2,"hl":0},
  {"m":"Phenyllactic acid","c":"MYO","d":"Death","v":2,"hl":0},
  {"m":"Homoserine","c":"MYO","d":"Death","v":2,"hl":0},
  {"m":"Aconitic acid","c":"NT-proBNP","d":"CHF","v":2,"hl":1},
  {"m":"Aconitic acid","c":"NT-proBNP","d":"CHF","v":1,"hl":0},
  {"m":"Homoserine","c":"NT-proBNP","d":"T2D","v":2,"hl":0},
  {"m":"Aconitic acid","c":"NT-proBNP","d":"CKD","v":6,"hl":1},
  {"m":"Aconitic acid","c":"NT-proBNP","d":"CKD","v":2,"hl":0},
  {"m":"Aconitic acid","c":"NT-proBNP","d":"Death","v":1,"hl":0},
  {"m":"ImP","c":"NT-proBNP","d":"Death","v":1,"hl":0}
 ],
 "pathsC":[
  {"c":"QUICKI","m":"Acetic acid","d":"T2D","v":4,"hl":0},
  {"c":"FFA","m":"Acetic acid","d":"T2D","v":4,"hl":0},
  {"c":"CystatinC","m":"Acetic acid","d":"CKD","v":4,"hl":0},
  {"c":"Tg","m":"Acetic acid","d":"Death","v":3,"hl":0},
  {"c":"CystatinC","m":"Aconitic acid","d":"CHF","v":6,"hl":0},
  {"c":"FFA","m":"Aconitic acid","d":"T2D","v":6,"hl":0},
  {"c":"2h Insulin","m":"Aconitic acid","d":"T2D","v":4,"hl":0},
  {"c":"Creatinine","m":"Aconitic acid","d":"CKD","v":5,"hl":0},
  {"c":"FFA","m":"Aconitic acid","d":"CKD","v":7,"hl":0},
  {"c":"Tg","m":"Aconitic acid","d":"CKD","v":4,"hl":0},
  {"c":"hsCRP","m":"Aconitic acid","d":"Death","v":6,"hl":0},
  {"c":"MYO","m":"Aconitic acid","d":"Death","v":6,"hl":0},
  {"c":"FFA","m":"2-Hydroxyisobutyric acid","d":"CHF","v":4,"hl":0},
  {"c":"QUICKI","m":"2-Hydroxyisobutyric acid","d":"CHF","v":4,"hl":0},
  {"c":"QUICKI","m":"2-Hydroxyisobutyric acid","d":"T2D","v":8,"hl":0},
  {"c":"FFA","m":"2-Hydroxyisobutyric acid","d":"T2D","v":4,"hl":0},
  {"c":"CystatinC","m":"2-Hydroxyisobutyric acid","d":"CKD","v":6,"hl":0},
  {"c":"Tg","m":"2-Hydroxyisobutyric acid","d":"CKD","v":7,"hl":0},
  {"c":"FFA","m":"2-Hydroxyisobutyric acid","d":"Death","v":6,"hl":0},
  {"c":"hsCRP","m":"2-Hydroxyisobutyric acid","d":"Death","v":4,"hl":0},
  {"c":"FFA","m":"Citric acid","d":"CHF","v":6,"hl":0},
  {"c":"FFA","m":"Citric acid","d":"T2D","v":6,"hl":0},
  {"c":"Tc","m":"Citric acid","d":"T2D","v":4,"hl":0},
  {"c":"Creatinine","m":"Citric acid","d":"CKD","v":10,"hl":0},
  {"c":"FFA","m":"Citric acid","d":"CKD","v":14,"hl":0},
  {"c":"CystatinC","m":"Citric acid","d":"CKD","v":6,"hl":0},
  {"c":"QUICKI","m":"Citric acid","d":"CKD","v":8,"hl":0},
  {"c":"FFA","m":"Citric acid","d":"Death","v":10,"hl":0},
  {"c":"hsCRP","m":"Citric acid","d":"Death","v":8,"hl":0},
  {"c":"QUICKI","m":"ImP","d":"CHF","v":3,"hl":0},
  {"c":"2h Insulin","m":"ImP","d":"T2D","v":5,"hl":0},
  {"c":"FFA","m":"ImP","d":"T2D","v":3,"hl":0},
  {"c":"CystatinC","m":"ImP","d":"CKD","v":13,"hl":1},
  {"c":"FFA","m":"ImP","d":"CKD","v":9,"hl":0},
  {"c":"Tg","m":"ImP","d":"CKD","v":8,"hl":0},
  {"c":"MYO","m":"ImP","d":"Death","v":5,"hl":0},
  {"c":"FFA","m":"ImP","d":"Death","v":6,"hl":0},
  {"c":"hsCRP","m":"ImP","d":"Death","v":6,"hl":0},
  {"c":"QUICKI","m":"Isocitric acid","d":"CHF","v":6,"hl":0},
  {"c":"2h Insulin","m":"Isocitric acid","d":"T2D","v":5,"hl":0},
  {"c":"Tc","m":"Isocitric acid","d":"T2D","v":1,"hl":0},
  {"c":"CystatinC","m":"Isocitric acid","d":"CKD","v":8,"hl":0},
  {"c":"FFA","m":"Isocitric acid","d":"CKD","v":8,"hl":0},
  {"c":"FFA","m":"Isocitric acid","d":"Death","v":6,"hl":0},
  {"c":"hsCRP","m":"Isocitric acid","d":"Death","v":6,"hl":0},
  {"c":"MYO","m":"Isocitric acid","d":"Death","v":3,"hl":0},
  {"c":"QUICKI","m":"N-Acetyaspartic acid","d":"T2D","v":2,"hl":0},
  {"c":"QUICKI","m":"N-Acetyaspartic acid","d":"CKD","v":4,"hl":0},
  {"c":"Tc","m":"N-Acetyaspartic acid","d":"CKD","v":4,"hl":0},
  {"c":"Tc","m":"N-Acetyaspartic acid","d":"Death","v":5,"hl":0},
  {"c":"QUICKI","m":"Phenyllactic acid","d":"T2D","v":2,"hl":0},
  {"c":"Tg","m":"Phenyllactic acid","d":"CKD","v":5,"hl":0},
  {"c":"MYO","m":"Phenyllactic acid","d":"CKD","v":1,"hl":0},
  {"c":"FFA","m":"Phenyllactic acid","d":"Death","v":2,"hl":0},
  {"c":"QUICKI","m":"Phenyllactic acid","d":"Death","v":2,"hl":0}
 ]
},
"config":{
 "font":"Liberation Sans",
 "axis":{"labelColor":"#222","tickColor":"#222","titleColor":"#222","titleFontWeight":"normal","grid":false},
 "title":{"color":"#111"}
}
}
